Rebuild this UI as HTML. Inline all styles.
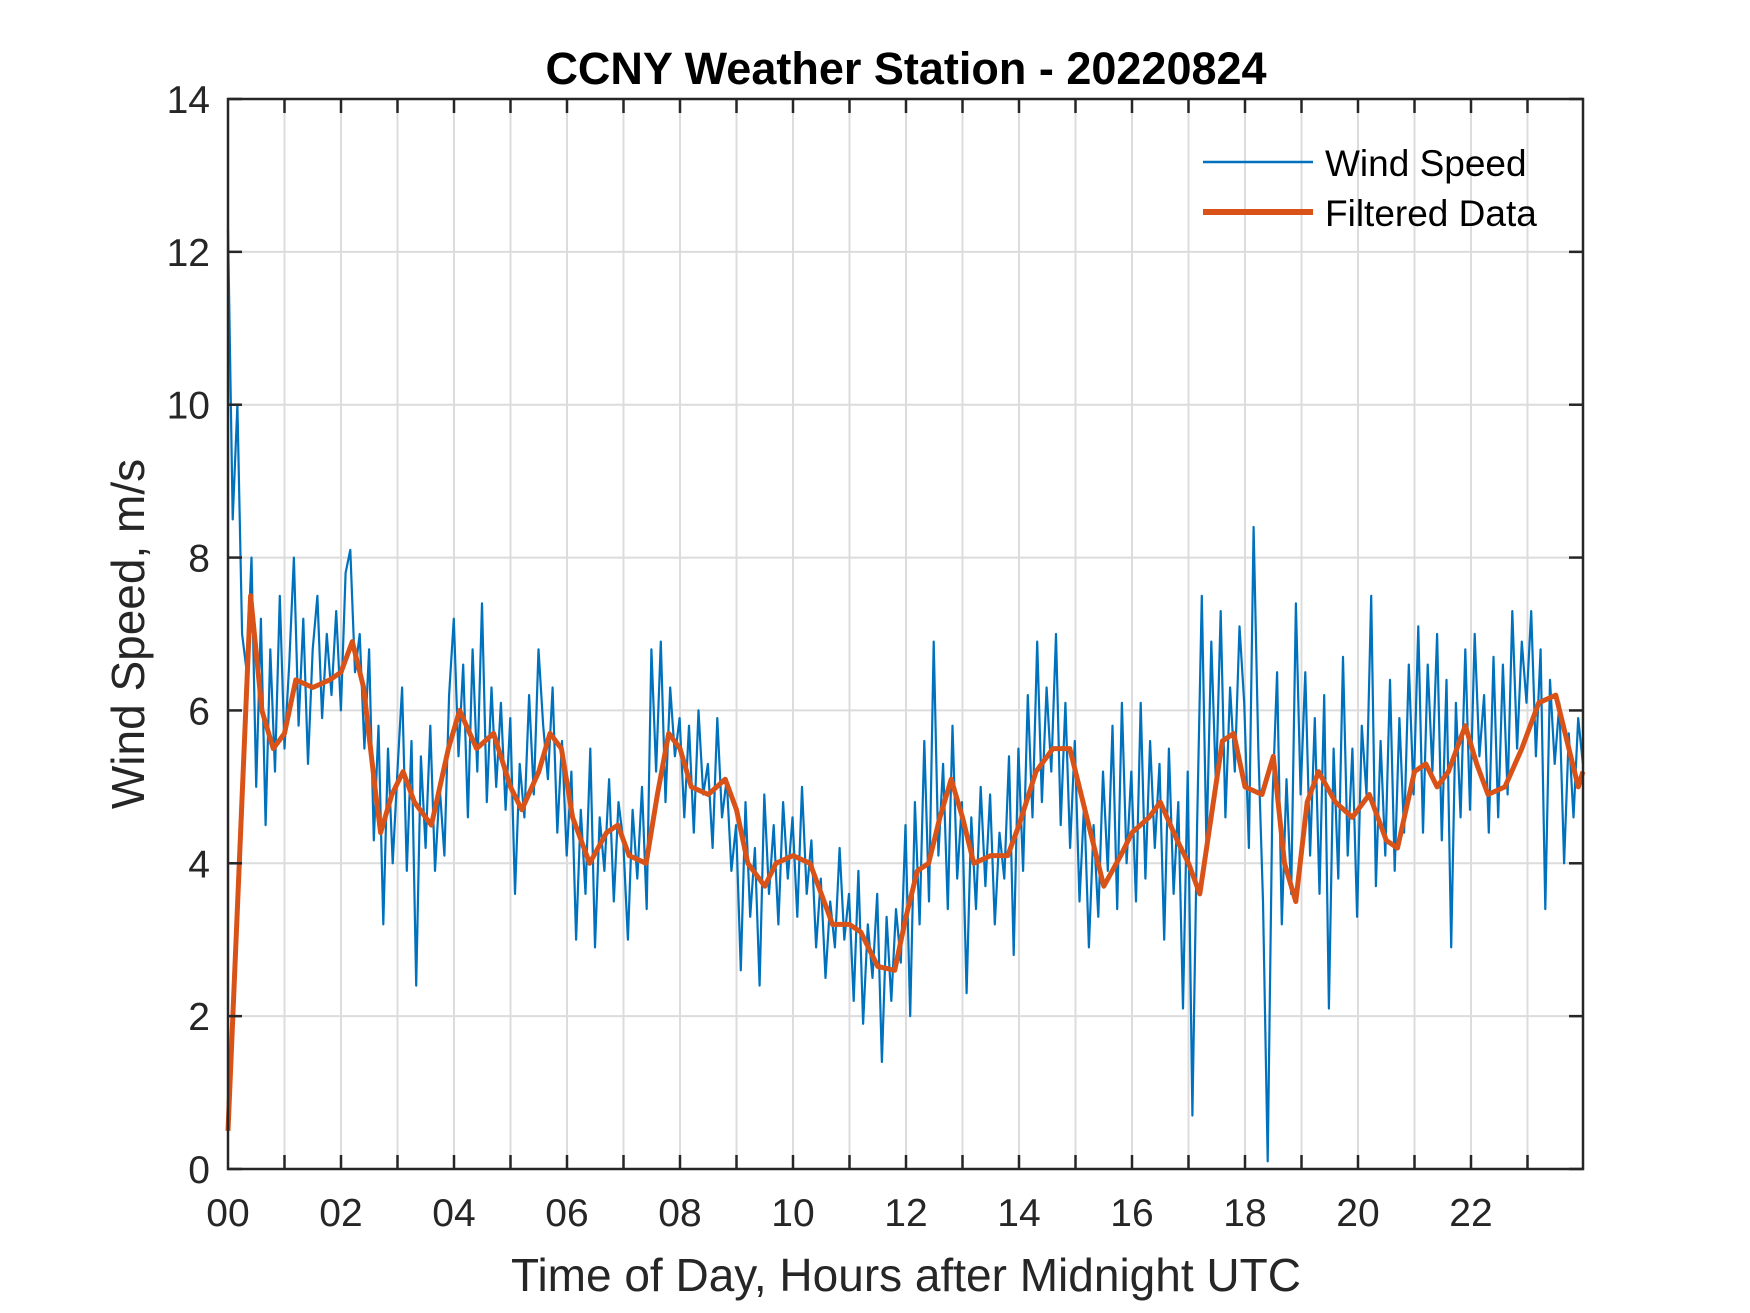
<!DOCTYPE html>
<html><head><meta charset="utf-8"><style>
html,body{margin:0;padding:0;background:#fff;}
svg{display:block;font-family:"Liberation Sans",Arial,sans-serif;}
</style></head><body>
<svg id="chart" width="1750" height="1313" viewBox="0 0 1750 1313" xmlns="http://www.w3.org/2000/svg">
<rect width="1750" height="1313" fill="#fff"/>
<g id="grid"></g>
<g id="series"></g>
<g id="axes"></g>
<text x="906" y="84" text-anchor="middle" font-size="45" font-weight="bold" fill="#000">CCNY Weather Station - 20220824</text>
<text x="906" y="1291" text-anchor="middle" font-size="46" fill="#262626">Time of Day, Hours after Midnight UTC</text>
<text transform="translate(144,634) rotate(-90)" text-anchor="middle" font-size="46" fill="#262626">Wind Speed, m/s</text>
<g>
<line x1="1203" y1="162" x2="1313" y2="162" stroke="#0072BD" stroke-width="2.5"/>
<text x="1325" y="176" font-size="37" fill="#000">Wind Speed</text>
<line x1="1203" y1="212" x2="1313" y2="212" stroke="#D95319" stroke-width="6"/>
<text x="1325" y="226" font-size="37" fill="#000">Filtered Data</text>
</g>
</svg>
<script>
const xTicks=[0,2,4,6,8,10,12,14,16,18,20,22];
const xTickLabels=["00","02","04","06","08","10","12","14","16","18","20","22"];
const yTicks=[0,2,4,6,8,10,12,14];
const windSpeed=[
12.3,8.5,10,7,6.5,8,5,7.2,4.5,6.8,5.2,7.5,
5.5,6.6,8,5.8,7.2,5.3,6.8,7.5,5.9,7,6.2,7.3,
6,7.8,8.1,6.5,7,5.5,6.8,4.3,5.8,3.2,5.5,4,
5.2,6.3,3.9,5.6,2.4,5.4,4.2,5.8,3.9,5,4.1,6.2,
7.2,5.4,6.6,4.6,6.8,5.2,7.4,4.8,6.3,5,6.1,4.7,
5.9,3.6,5.3,4.6,6.2,4.9,6.8,5.8,5.1,6.3,4.4,5.6,
4.1,5.2,3,4.7,3.6,5.5,2.9,4.6,3.9,5.1,3.5,4.8,
4.3,3,4.7,3.8,5,3.4,6.8,5.2,6.9,4.8,6.3,5.4,
5.9,4.6,5.8,4.4,6,4.9,5.3,4.2,5.9,4.6,5.1,3.9,
4.5,2.6,4.8,3.3,4.2,2.4,4.9,3.6,4.5,3.2,4.8,3.8,
4.6,3.3,5,3.6,4.3,2.9,3.8,2.5,3.5,2.9,4.2,3,
3.6,2.2,3.9,1.9,3.2,2.5,3.6,1.4,3.3,2.2,3.4,2.7,
4.5,2,4.8,3.2,5.6,3.5,6.9,4.1,5.3,3.4,5.8,3.8,
4.8,2.3,4.6,3.4,5,3.7,4.9,3.2,4.4,3.8,5.4,2.8,
5.5,3.9,6.2,4.6,6.9,4.8,6.3,5.2,7,4.5,6.1,4.2,
5.6,3.5,4.8,2.9,4.5,3.3,5.2,3.9,5.8,3.4,6.1,4,
5.2,3.5,6.1,3.8,5.6,4.2,5.3,3,5.5,3.6,4.8,2.1,
5.2,0.7,4.5,7.5,4.2,6.9,5,7.3,4.6,6.3,5.2,7.1,
6.1,4.2,8.4,5.5,3.5,0.1,4.8,6.5,3.2,5.1,3.6,7.4,
4.9,6.5,4.1,5.9,3.6,6.2,2.1,5.5,3.8,6.7,4.1,5.5,
3.3,5.8,4.9,7.5,3.7,5.6,4.1,6.4,3.9,5.9,4.4,6.6,
4.9,7.1,4.4,6.6,5.2,7,4.3,6.4,2.9,6.1,4.6,6.8,
4.7,7,5.4,6.2,4.4,6.7,4.6,6.6,4.9,7.3,5.5,6.9,
6.1,7.3,5.4,6.8,3.4,6.4,5.3,6.1,4,5.7,4.6,5.9,5.3];
const filtTimes=[0,0.4,0.6,0.8,1.0,1.2,1.5,1.8,2.0,2.2,2.4,2.6,2.7,2.9,3.1,3.3,3.6,3.9,4.1,4.4,4.7,5.0,5.2,5.5,5.7,5.9,6.1,6.4,6.7,6.9,7.1,7.4,7.6,7.8,8.0,8.2,8.5,8.8,9.0,9.2,9.5,9.7,10.0,10.3,10.5,10.7,11.0,11.2,11.5,11.8,12.0,12.2,12.4,12.6,12.8,13.0,13.2,13.5,13.8,14.0,14.3,14.6,14.9,15.2,15.5,15.8,16.0,16.3,16.5,16.8,17.0,17.2,17.4,17.6,17.8,18.0,18.3,18.5,18.7,18.9,19.1,19.3,19.6,19.9,20.2,20.5,20.7,21.0,21.2,21.4,21.6,21.9,22.1,22.3,22.6,22.9,23.2,23.5,23.7,23.9,23.98];
const filtValues=[0.5,7.5,6.0,5.5,5.7,6.4,6.3,6.4,6.5,6.9,6.3,5.0,4.4,4.9,5.2,4.8,4.5,5.5,6.0,5.5,5.7,5.0,4.7,5.2,5.7,5.5,4.6,4.0,4.4,4.5,4.1,4.0,4.9,5.7,5.5,5.0,4.9,5.1,4.7,4.0,3.7,4.0,4.1,4.0,3.6,3.2,3.2,3.1,2.65,2.6,3.3,3.9,4.0,4.6,5.1,4.6,4.0,4.1,4.1,4.5,5.2,5.5,5.5,4.6,3.7,4.1,4.4,4.6,4.8,4.3,4.0,3.6,4.6,5.6,5.7,5.0,4.9,5.4,4.0,3.5,4.8,5.2,4.8,4.6,4.9,4.3,4.2,5.2,5.3,5.0,5.2,5.8,5.3,4.9,5.0,5.5,6.1,6.2,5.6,5.0,5.2];
const L=228,R=1583,T=99,B=1169,HOUR=56.5,YMAX=14;
const xs=h=>L+h*HOUR;
const ys=v=>B-(v/YMAX)*(B-T);
const NS="http://www.w3.org/2000/svg";
function mk(tag,attrs,parent){const e=document.createElementNS(NS,tag);for(const k in attrs)e.setAttribute(k,attrs[k]);parent.appendChild(e);return e;}
const grid=document.getElementById('grid'),axes=document.getElementById('axes'),series=document.getElementById('series');
for(let h=1;h<24;h++){const g=mk('line',{x1:xs(h),x2:xs(h),y1:T,y2:B,stroke:'#dcdcdc','stroke-width':2},grid);

}
yTicks.forEach(v=>{if(v>0&&v<YMAX){const g=mk('line',{x1:L,x2:R,y1:ys(v),y2:ys(v),stroke:'#dcdcdc','stroke-width':2},grid);

}});
const step=24/(windSpeed.length-1)*0.9992;
let d='';windSpeed.forEach((v,i)=>{d+=(i?'L':'M')+xs(i*step).toFixed(1)+' '+ys(v).toFixed(1);});
const p1=mk('path',{d:d,fill:'none',stroke:'#0072BD','stroke-width':2.2,'stroke-linejoin':'round'},series);


let d2='';filtValues.forEach((v,i)=>{d2+=(i?'L':'M')+xs(filtTimes[i]).toFixed(1)+' '+ys(v).toFixed(1);});
const p2=mk('path',{d:d2,fill:'none',stroke:'#D95319','stroke-width':5,'stroke-linejoin':'round'},series);


const fr=mk('rect',{x:L,y:T,width:R-L,height:B-T,fill:'none',stroke:'#262626','stroke-width':2.5},axes);


for(let h=1;h<24;h++){mk('line',{x1:xs(h),x2:xs(h),y1:B,y2:B-14,stroke:'#262626','stroke-width':2.5},axes);mk('line',{x1:xs(h),x2:xs(h),y1:T,y2:T+14,stroke:'#262626','stroke-width':2.5},axes);}
yTicks.forEach(v=>{mk('line',{x1:L,x2:L+14,y1:ys(v),y2:ys(v),stroke:'#262626','stroke-width':2.5},axes);mk('line',{x1:R,x2:R-14,y1:ys(v),y2:ys(v),stroke:'#262626','stroke-width':2.5},axes);
const t=mk('text',{x:L-18,y:ys(v)+14,'text-anchor':'end','font-size':39,fill:'#262626'},axes);t.textContent=v;

});
xTicks.forEach((h,i)=>{const t=mk('text',{x:xs(h),y:B+57,'text-anchor':'middle','font-size':39,fill:'#262626'},axes);t.textContent=xTickLabels[i];

});
</script>
</body></html>
